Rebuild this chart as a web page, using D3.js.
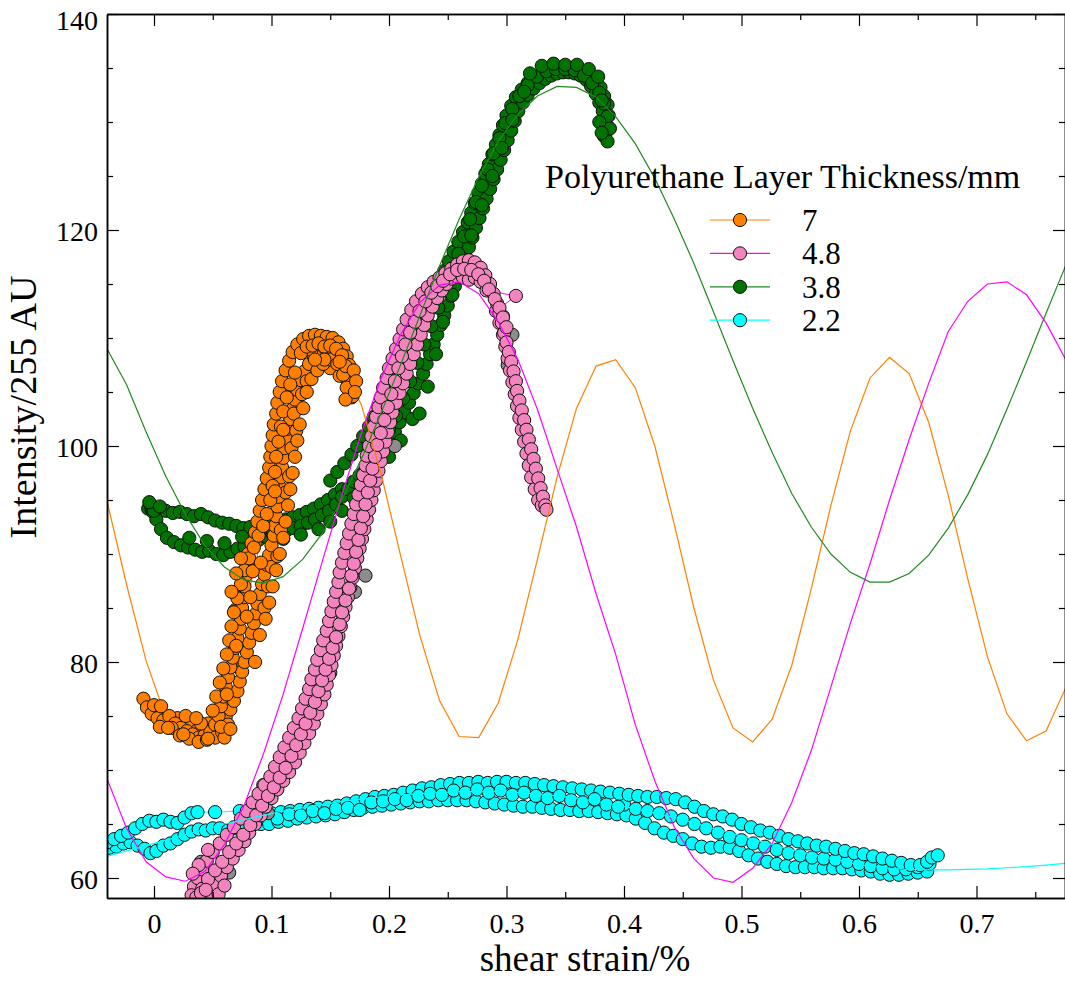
<!DOCTYPE html>
<html>
<head>
<meta charset="utf-8">
<script src="https://d3js.org/d3.v7.min.js"></script>
<style>
  body { margin: 0; background: #fff; }
  text { font-family: "Liberation Serif", "Times New Roman", serif; }
</style>
</head>
<body>
<script>

// strain values where the fitted curves were sampled
var strainGrid = [-0.0400, -0.0234, -0.0067, 0.0100, 0.0266, 0.0433, 0.0599, 0.0766, 0.0932, 0.1099,
  0.1265, 0.1432, 0.1598, 0.1765, 0.1931, 0.2098, 0.2264, 0.2431, 0.2597, 0.2764,
  0.2930, 0.3097, 0.3263, 0.3430, 0.3596, 0.3763, 0.3929, 0.4096, 0.4262, 0.4429,
  0.4595, 0.4762, 0.4928, 0.5095, 0.5261, 0.5428, 0.5594, 0.5761, 0.5927, 0.6094,
  0.6260, 0.6427, 0.6593, 0.6760, 0.6926, 0.7093, 0.7259, 0.7426, 0.7592, 0.7759];

// fitted curves (intensity at each strainGrid value)
var fit7 = [94.9, 87.2, 80.1, 74.9, 72.7, 73.8, 78.0, 84.6, 92.3, 99.6,
  105.2, 108.0, 107.5, 103.8, 97.5, 89.9, 82.4, 76.4, 73.1, 73.0,
  76.2, 82.1, 89.5, 97.1, 103.5, 107.4, 108.0, 105.4, 100.0, 92.7,
  85.0, 78.3, 73.9, 72.6, 74.7, 79.7, 86.8, 94.5, 101.4, 106.3,
  108.2, 106.7, 102.2, 95.4, 87.7, 80.5, 75.2, 72.7, 73.6, 77.6];
var fit48 = [69.2, 64.6, 61.5, 60.1, 59.7, 60.6, 63.1, 66.7, 71.5, 77.0,
  83.1, 89.3, 95.4, 101.2, 106.2, 110.3, 113.3, 114.9, 115.2, 114.1,
  111.5, 108.0, 103.4, 97.9, 92.5, 86.3, 80.7, 74.2, 69.0, 64.7,
  61.8, 60.0, 59.6, 60.9, 63.2, 67.0, 71.8, 77.7, 83.6, 89.1,
  95.0, 100.6, 105.8, 110.6, 113.4, 115.0, 115.2, 114.0, 111.4, 108.0];
var fit38 = [109.0, 105.7, 101.3, 97.2, 93.7, 90.8, 88.8, 87.6, 87.3, 87.9,
  89.5, 91.9, 95.0, 98.8, 103.0, 107.5, 112.1, 116.7, 121.0, 124.9,
  128.2, 130.7, 132.4, 133.3, 133.2, 132.3, 130.5, 128.0, 124.8, 121.0,
  116.9, 112.4, 107.9, 103.5, 99.4, 95.6, 92.5, 90.0, 88.3, 87.4,
  87.4, 88.2, 89.9, 92.4, 95.5, 99.2, 103.4, 107.8, 112.3, 116.7];
var fit22 = [62.0, 62.5, 63.0, 63.5, 64.0, 64.5, 65.0, 65.4, 65.8, 66.2,
  66.5, 66.8, 67.1, 67.3, 67.5, 67.7, 67.8, 67.9, 68.0, 68.0,
  68.0, 67.9, 67.8, 67.6, 67.4, 67.1, 66.8, 66.4, 66.0, 65.6,
  65.1, 64.6, 64.1, 63.6, 63.1, 62.6, 62.2, 61.8, 61.4, 61.1,
  60.9, 60.8, 60.75, 60.75, 60.8, 60.85, 60.95, 61.05, 61.2, 61.35];

// measured points [strain, intensity], 7 mm
var pts7a = [[-0.009,76.6],[-0.006,75.8],[-0.002,75.2],[0.003,74.8],[0.008,74.6],[0.013,75.0],[0.018,74.3],[0.023,73.9],
  [0.028,73.6],[0.033,73.3],[0.038,73.0],[0.043,73.2],[0.048,73.6],[0.052,74.2],[0.055,75.0],[0.057,75.9],[0.059,76.8],
  [0.061,77.7],[0.063,78.6],[0.065,79.5],[0.067,80.4],[0.069,81.3],[0.071,82.2],[0.073,83.1],[0.074,84.0],[0.075,85.0],
  [0.076,86.0],[0.077,87.0],[0.078,88.0],[0.079,89.0],[0.080,90.0],[0.083,91.0],[0.086,92.0],[0.088,93.0],[0.090,94.0],
  [0.092,95.0],[0.094,96.0],[0.096,97.0],[0.098,98.0],[0.099,99.0],[0.100,100.0],[0.101,101.0],[0.102,102.0],[0.104,103.0],
  [0.105,104.0],[0.107,105.0],[0.109,106.0],[0.112,107.0],[0.115,107.9],[0.118,108.7],[0.122,109.4],[0.127,109.9],
  [0.132,110.2],[0.137,110.3],[0.142,110.2],[0.147,110.1],[0.152,110.0],[0.157,109.6],[0.161,109.0],[0.164,108.3],
  [0.166,107.5],[0.168,106.7],[0.169,105.9],[0.168,105.1]];
var pts7b = [[0.020,74.8],[0.026,74.5],[0.031,74.0],[0.036,73.6],[0.041,73.9],[0.046,74.3],[0.051,73.9],[0.056,74.4],
  [0.061,74.9],[0.065,75.6],[0.068,76.4],[0.071,77.3],[0.073,78.2],[0.075,79.1],[0.077,80.0],[0.079,80.9],[0.081,81.8],
  [0.083,82.7],[0.085,83.6],[0.087,84.5],[0.088,85.4],[0.090,86.3],[0.092,87.2],[0.094,88.1],[0.096,89.0],[0.098,89.9],
  [0.100,90.8],[0.102,91.7],[0.103,92.6],[0.104,93.5],[0.105,94.4],[0.106,95.3],[0.107,96.2],[0.108,97.1],[0.109,98.0],
  [0.110,98.9],[0.111,99.8],[0.112,100.7],[0.114,101.6],[0.116,102.5],[0.118,103.4],[0.120,104.3],[0.122,105.2],
  [0.125,106.1],[0.128,106.9],[0.132,107.6],[0.136,108.3],[0.141,108.8],[0.146,109.0],[0.151,108.8],[0.156,108.3],
  [0.160,107.6],[0.163,106.8],[0.165,106.0],[0.167,105.2],[0.169,104.6]];
var pts7c = [[0.066,86.5],[0.070,88.2],[0.074,89.6],[0.086,80.0],[0.090,82.5],[0.094,85.0],[0.150,107.2],[0.158,106.5],
  [0.130,106.0],[0.036,74.8],[0.046,72.9],[0.012,73.9],[0.006,75.9]];
var pts7d = [[0.095,84.0],[0.098,85.5],[0.101,87.0],[0.104,88.5],[0.107,90.0],[0.110,91.5],[0.112,93.0],[0.114,94.5],
  [0.116,96.0],[0.118,97.5],[0.120,99.0],[0.122,100.5],[0.124,102.0],[0.127,103.5],[0.130,105.0],[0.134,106.2],
  [0.139,107.0],[0.144,107.6],[0.150,108.0],[0.156,107.6],[0.161,106.6],[0.164,105.4],[0.163,104.3]];
var pts7e = [[0.015,73.9],[0.022,73.2],[0.030,72.9],[0.038,72.6],[0.045,72.8],[0.052,73.0],[0.058,73.5],[0.063,74.2],
  [0.040,74.3],[0.027,75.0],[0.060,73.0],[0.050,75.5],[0.053,76.8],[0.056,78.1],[0.059,79.4],[0.062,80.7],[0.064,82.0],
  [0.066,83.3],[0.068,84.6],[0.071,85.9],[0.074,87.2],[0.077,88.5],[0.081,89.6],[0.085,90.6],[0.089,91.7],[0.093,92.6],
  [0.096,93.7],[0.099,95.0],[0.101,96.3],[0.103,97.6],[0.104,99.0],[0.106,100.4],[0.108,101.8],[0.110,103.2],
  [0.113,104.5],[0.116,105.7],[0.120,106.8]];
var pts7f = [[0.125,108.6],[0.130,109.2],[0.135,109.3],[0.140,109.5],[0.145,109.2],[0.150,109.3],[0.155,109.0],
  [0.160,108.4],[0.163,107.4],[0.158,107.8],[0.145,108.0],[0.137,108.0],[0.170,107.0],[0.172,106.0],[0.171,105.0]];
var pts7g = [[0.097,87.0],[0.100,88.8],[0.105,89.8],[0.108,92.2],[0.112,95.7],[0.115,97.2],[0.117,99.8],[0.121,101.4],
  [0.119,103.0],[0.126,104.8],[0.082,86.0],[0.079,84.2],[0.084,88.4],[0.070,81.5],[0.062,77.0],[0.057,74.0],
  [0.065,73.8],[0.025,73.3],[0.005,74.0],[0.000,76.0],[0.091,89.2],[0.103,95.8],[0.110,101.5],[0.134,108.9]];
var pts7dark = [[0.069,84.8],[0.070,86.2],[0.095,95.4],[0.168,104.5],[0.115,105.4],[0.072,79.5],[0.010,74.2],[0.090,92.2]];

// 4.8 mm
var pts48a = [[0.034,59.2],[0.037,60.0],[0.041,60.8],[0.045,61.6],[0.050,62.4],[0.056,63.2],[0.062,64.0],[0.068,64.7],
  [0.074,65.5],[0.079,66.2],[0.084,67.0],[0.089,67.8],[0.094,68.6],[0.099,69.4],[0.103,70.3],[0.107,71.2],[0.111,72.1],
  [0.115,73.0],[0.119,73.9],[0.123,74.8],[0.126,75.7],[0.129,76.6],[0.132,77.5],[0.134,78.4],[0.137,79.3],[0.139,80.2],
  [0.142,81.1],[0.144,82.0],[0.147,82.9],[0.149,83.8],[0.151,84.7],[0.153,85.6],[0.155,86.5],[0.157,87.4],[0.158,88.3],
  [0.160,89.2],[0.162,90.1],[0.164,91.0],[0.166,91.9],[0.168,92.8],[0.170,93.7],[0.172,94.6],[0.174,95.5],[0.176,96.4],
  [0.178,97.3],[0.180,98.2],[0.181,99.1],[0.183,100.0],[0.185,100.9],[0.187,101.8],[0.189,102.7],[0.191,103.6],
  [0.193,104.5],[0.195,105.4],[0.198,106.3],[0.200,107.2],[0.203,108.1],[0.206,109.0],[0.209,109.9],[0.212,110.8],
  [0.215,111.7],[0.219,112.6],[0.223,113.4],[0.228,114.1],[0.233,114.7],[0.238,115.2],[0.243,115.6],[0.248,116.0],
  [0.253,116.4],[0.258,116.8],[0.263,117.1],[0.268,117.2],[0.273,117.0],[0.278,116.5],[0.282,115.8],[0.286,115.0],
  [0.289,114.1],[0.292,113.2],[0.294,112.3],[0.296,111.4],[0.298,110.5],[0.300,109.6],[0.302,108.7],[0.304,107.8],
  [0.306,106.9],[0.308,106.0],[0.309,105.1],[0.311,104.2],[0.313,103.3],[0.315,102.4],[0.317,101.5],[0.319,100.6],
  [0.321,99.7],[0.323,98.8],[0.325,97.9],[0.327,97.0],[0.329,96.1],[0.331,95.3],[0.333,94.5],[0.334,94.1]];
var pts48b = [[0.048,58.6],[0.052,59.4],[0.057,60.2],[0.062,61.0],[0.067,61.8],[0.072,62.6],[0.077,63.4],[0.081,64.2],
  [0.086,65.0],[0.091,65.8],[0.095,66.6],[0.100,67.4],[0.105,68.2],[0.110,69.0],[0.115,69.8],[0.120,70.7],[0.124,71.6],
  [0.128,72.5],[0.132,73.4],[0.136,74.3],[0.139,75.2],[0.142,76.1],[0.145,77.0],[0.147,77.9],[0.149,78.8],[0.151,79.7],
  [0.153,80.6],[0.155,81.5],[0.157,82.4],[0.159,83.3],[0.161,84.2],[0.163,85.1],[0.165,86.0],[0.167,86.9],[0.169,87.8],
  [0.171,88.7],[0.173,89.6],[0.175,90.5],[0.177,91.4],[0.179,92.3],[0.181,93.2],[0.183,94.1],[0.185,95.0],[0.187,95.9],
  [0.189,96.8],[0.191,97.7],[0.193,98.6],[0.195,99.5],[0.197,100.4],[0.199,101.3],[0.201,102.2],[0.203,103.1],
  [0.206,104.0],[0.209,104.9],[0.212,105.8],[0.215,106.7],[0.218,107.6],[0.221,108.5],[0.224,109.4],[0.227,110.3],
  [0.230,111.2],[0.233,112.1],[0.237,112.9],[0.241,113.7],[0.245,114.4],[0.249,115.0],[0.253,115.5],[0.258,115.7],
  [0.263,115.6],[0.268,115.4],[0.273,115.6],[0.278,115.2],[0.283,114.4],[0.308,113.9],[0.291,112.5],[0.294,111.4],
  [0.297,110.3],[0.299,109.2],[0.301,108.1],[0.303,107.0],[0.305,105.9],[0.307,104.8],[0.309,103.7],[0.311,102.6],
  [0.313,101.5],[0.315,100.4],[0.317,99.3],[0.319,98.2],[0.321,97.1],[0.324,96.0],[0.327,95.0],[0.330,94.5]];
var pts48c = [[0.041,59.0],[0.046,59.9],[0.052,60.7],[0.058,61.5],[0.064,62.4],[0.070,63.2],[0.076,64.0],[0.082,64.9],
  [0.087,65.8],[0.092,66.7],[0.097,67.6],[0.102,68.4],[0.107,69.3],[0.112,70.2],[0.117,71.3],[0.121,72.3],[0.125,73.3],
  [0.129,74.3],[0.133,75.3],[0.137,76.3],[0.140,77.3],[0.143,78.3],[0.146,79.3],[0.149,80.3],[0.152,81.3],[0.155,82.3],
  [0.158,83.5],[0.160,84.6],[0.163,85.7],[0.166,86.8],[0.168,88.0],[0.170,89.1],[0.172,90.2],[0.174,91.3],[0.176,92.4],
  [0.178,93.5],[0.180,94.6],[0.182,95.7],[0.184,96.8],[0.186,97.9],[0.188,99.0],[0.190,100.1],[0.193,101.2],[0.196,102.4],
  [0.199,103.6],[0.202,104.8],[0.205,106.0],[0.208,107.2],[0.211,108.3],[0.214,109.4],[0.218,110.5],[0.222,111.5],
  [0.226,112.5],[0.231,113.4],[0.236,114.2],[0.241,114.8],[0.246,115.3],[0.252,115.9],[0.258,116.3],[0.264,116.4],
  [0.270,116.3],[0.276,115.9],[0.281,115.3],[0.285,114.5],[0.290,113.6],[0.294,112.8],[0.297,111.9],[0.300,111.0]];
var pts48d = [[0.032,58.4],[0.036,58.2],[0.040,58.6],[0.044,58.9],[0.038,61.2],[0.046,62.6],[0.033,60.4],[0.055,58.5],
  [0.060,59.3]];
var pts48gray = [[0.093,68.6],[0.305,110.3],[0.040,61.5],[0.097,66.0],[0.150,79.0],[0.171,86.5],[0.180,88.0],
  [0.297,112.0],[0.301,107.5],[0.130,75.0],[0.205,100.0],[0.185,97.0],[0.064,60.5],[0.112,70.2]];

// 3.8 mm
var pts38a = [[-0.003,94.6],[-0.001,93.9],[0.002,93.2],[0.006,92.3],[0.011,91.5],[0.017,91.1],[0.023,90.8],[0.029,90.6],
  [0.035,90.4],[0.041,90.2],[0.047,90.3],[0.053,90.0],[0.059,89.9],[0.065,90.2],[0.071,90.5],[0.077,90.7],[0.083,91.0],
  [0.089,91.3],[0.095,91.6],[0.101,91.8],[0.107,92.0],[0.113,92.2],[0.119,92.4],[0.125,92.6],[0.131,92.9],[0.137,93.2],
  [0.143,93.6],[0.149,94.0],[0.155,94.6],[0.160,95.3],[0.165,96.0],[0.170,96.7],[0.175,97.3],[0.180,97.9],[0.185,98.5],
  [0.190,99.1],[0.195,99.8],[0.200,100.5],[0.205,101.3],[0.209,102.2],[0.213,103.1],[0.217,104.0],[0.221,104.9],
  [0.225,105.8],[0.229,106.7],[0.232,107.6],[0.235,108.5],[0.238,109.4],[0.241,110.3],[0.244,111.2],[0.247,112.1],
  [0.250,113.0],[0.253,113.9],[0.256,114.8],[0.259,115.7],[0.262,116.6],[0.265,117.5],[0.268,118.4],[0.271,119.3],
  [0.274,120.2],[0.277,121.1],[0.280,122.0],[0.283,122.9],[0.286,123.8],[0.289,124.7],[0.292,125.6],[0.295,126.5],
  [0.298,127.4],[0.301,128.3],[0.304,129.2],[0.307,130.1],[0.310,131.0],[0.314,131.8],[0.318,132.5],[0.323,133.1],
  [0.328,133.6],[0.333,134.0],[0.338,134.3],[0.343,134.5],[0.348,134.6],[0.353,134.6],[0.358,134.5],[0.363,134.3],
  [0.368,133.9],[0.372,133.3],[0.376,132.6],[0.379,131.8],[0.382,131.0],[0.384,130.2],[0.385,129.4],[0.383,128.7]];
var pts38b = [[0.150,96.8],[0.156,97.6],[0.162,98.4],[0.168,99.2],[0.173,100.0],[0.178,100.9],[0.183,101.8],[0.187,102.7],
  [0.191,103.6],[0.195,104.5],[0.199,105.4],[0.203,106.3],[0.207,107.2],[0.211,108.1],[0.215,109.0],[0.219,109.9],
  [0.223,110.8],[0.227,111.7],[0.231,112.6],[0.235,113.5],[0.239,114.4],[0.243,115.3],[0.247,116.2],[0.251,117.1],
  [0.255,118.0],[0.259,118.9],[0.263,119.8],[0.267,120.7],[0.270,121.6],[0.273,122.5],[0.276,123.4],[0.279,124.3],
  [0.282,125.2],[0.285,126.1],[0.288,127.0],[0.291,127.9],[0.294,128.8],[0.297,129.7],[0.300,130.6],[0.304,131.5],
  [0.308,132.3],[0.313,133.0],[0.318,133.6],[0.324,134.1],[0.330,134.5],[0.336,134.8],[0.342,135.0],[0.348,135.0],
  [0.354,134.9],[0.360,134.8],[0.366,134.6],[0.371,134.3],[0.376,133.9],[0.380,133.2],[0.383,132.4],[0.386,131.6],
  [0.387,130.6],[0.386,129.6],[0.384,128.8]];
var pts38c = [[-0.005,94.2],[-0.002,94.1],[0.004,93.9],[0.010,94.0],[0.016,93.8],[0.022,93.9],[0.028,93.7],[0.034,93.5],
  [0.040,93.7],[0.046,93.4],[0.052,93.1],[0.058,92.9],[0.064,92.8],[0.070,92.6],[0.076,92.4],[0.082,92.5],[0.088,92.2],
  [0.094,92.6],[0.100,92.9],[0.106,93.1],[0.112,93.2],[0.118,93.4],[0.124,93.6],[0.130,93.9],[0.136,94.2],[0.142,94.6],
  [0.148,95.0],[0.154,95.5],[0.160,96.0]];
var pts38d = [[0.200,101.5],[0.206,102.8],[0.212,104.4],[0.218,106.0],[0.224,107.7],[0.230,109.4],[0.236,111.1],
  [0.242,112.8],[0.248,114.5],[0.254,116.2],[0.259,117.8],[0.264,119.4],[0.269,121.0],[0.274,122.6],[0.279,124.1],
  [0.284,125.6],[0.289,127.1],[0.294,128.5],[0.299,129.9],[0.305,131.2],[0.311,132.4],[0.318,133.4],[0.326,134.2],
  [0.334,134.7],[0.342,134.9],[0.350,134.9],[0.358,134.8],[0.366,134.3],[0.373,133.6],[0.379,132.7],[0.383,131.7],
  [0.386,130.5],[0.388,129.4],[0.386,128.2]];
var pts38e = [[0.000,94.0],[-0.004,94.8],[0.005,94.4],[0.030,91.5],[0.045,91.2],[0.060,91.0],[0.075,91.6],[0.090,92.0],
  [0.110,91.4],[0.125,91.8],[0.140,92.3],[0.150,93.0],[0.160,94.0],[0.170,95.2],[0.180,96.5],[0.190,97.6],[0.200,99.0],
  [0.210,100.5],[0.220,102.5]];
var pts38f = [[0.320,134.5],[0.330,135.2],[0.340,135.4],[0.350,135.3],[0.360,135.3],[0.370,134.9],[0.378,134.2],
  [0.381,132.0],[0.379,130.0],[0.381,129.0],[0.315,132.8],[0.305,130.2],[0.296,127.6],[0.288,125.0],[0.279,122.3],
  [0.270,119.5],[0.262,117.0],[0.254,114.0],[0.246,111.5],[0.240,108.5],[0.233,105.5],[0.226,103.0]];

// 2.2 mm
var pts22a = [[-0.040,63.3],[-0.034,63.6],[-0.028,63.9],[-0.022,64.2],[-0.016,64.6],[-0.010,65.0],[-0.004,65.3],
  [0.002,65.2],[0.008,65.4],[0.014,65.2],[0.020,65.1],[0.026,65.6],[0.032,66.0],[0.037,66.1],[0.052,66.1],[0.073,66.2],
  [0.084,66.3],[0.092,66.0],[0.100,66.0],[0.108,66.1],[0.116,66.2],[0.124,66.3],[0.132,66.4],[0.140,66.5],[0.148,66.6],
  [0.156,66.7],[0.164,66.9],[0.172,67.1],[0.180,67.3],[0.188,67.5],[0.196,67.6],[0.204,67.7],[0.212,67.9],[0.220,68.1],
  [0.228,68.3],[0.236,68.4],[0.244,68.6],[0.252,68.7],[0.260,68.8],[0.268,68.8],[0.276,68.9],[0.284,68.8],[0.292,68.9],
  [0.300,68.9],[0.308,68.8],[0.316,68.8],[0.324,68.7],[0.332,68.6],[0.340,68.5],[0.348,68.4],[0.356,68.3],[0.364,68.2],
  [0.372,68.1],[0.380,68.0],[0.388,67.9],[0.396,67.8],[0.404,67.7],[0.412,67.6],[0.420,67.5],[0.428,67.5],[0.436,67.4],
  [0.444,67.3],[0.452,67.0],[0.460,66.6],[0.468,66.2],[0.476,65.9],[0.484,65.7],[0.492,65.4],[0.500,65.0],[0.508,64.7],
  [0.516,64.4],[0.524,64.2],[0.532,63.9],[0.540,63.6],[0.548,63.4],[0.556,63.2],[0.564,63.0],[0.572,62.9],[0.580,62.7],
  [0.588,62.5],[0.596,62.3],[0.604,62.2],[0.612,62.0],[0.620,61.8],[0.628,61.6],[0.636,61.4],[0.644,61.2],[0.652,61.2],
  [0.658,61.5],[0.662,61.9],[0.667,62.1]];
var pts22b = [[-0.038,62.8],[-0.032,62.9],[-0.026,63.2],[-0.020,63.3],[-0.014,63.0],[-0.008,62.7],[-0.003,62.3],
  [0.002,62.5],[0.008,63.0],[0.014,63.2],[0.020,63.6],[0.026,64.0],[0.032,64.3],[0.038,64.5],[0.044,64.4],[0.050,64.6],
  [0.056,64.6],[0.063,64.4],[0.070,64.6],[0.077,64.8],[0.084,65.0],[0.091,65.0],[0.098,65.0],[0.106,65.2],[0.114,65.3],
  [0.122,65.5],[0.130,65.6],[0.138,65.7],[0.146,65.8],[0.154,65.9],[0.162,66.1],[0.170,66.3],[0.178,66.5],[0.186,66.6],
  [0.194,66.7],[0.202,66.8],[0.210,66.9],[0.218,67.0],[0.226,67.1],[0.234,67.1],[0.242,67.2],[0.250,67.2],[0.258,67.2],
  [0.266,67.2],[0.274,67.1],[0.282,67.0],[0.290,66.9],[0.298,66.8],[0.306,66.7],[0.314,66.6],[0.322,66.6],[0.330,66.5],
  [0.338,66.4],[0.346,66.3],[0.354,66.3],[0.362,66.2],[0.370,66.2],[0.378,66.1],[0.386,66.0],[0.394,65.9],[0.402,65.8],
  [0.410,65.5],[0.418,65.1],[0.426,64.6],[0.434,64.2],[0.442,63.9],[0.450,63.6],[0.458,63.2],[0.466,62.9],[0.474,62.8],
  [0.482,62.9],[0.490,62.8],[0.498,62.5],[0.506,62.1],[0.514,61.8],[0.522,61.5],[0.530,61.3],[0.538,61.1],[0.546,61.0],
  [0.554,61.0],[0.562,61.0],[0.570,60.9],[0.578,60.9],[0.586,60.9],[0.594,60.8],[0.602,60.7],[0.610,60.6],[0.618,60.4],
  [0.626,60.3],[0.634,60.3],[0.642,60.4],[0.650,60.5],[0.658,60.6]];
var pts22c = [[0.400,66.8],[0.410,66.4],[0.420,66.2],[0.430,66.0],[0.440,65.7],[0.450,65.4],[0.460,65.0],[0.470,64.6],
  [0.480,64.2],[0.490,63.8],[0.500,63.5],[0.510,63.2],[0.520,62.9],[0.530,62.6],[0.540,62.3],[0.550,62.1],[0.560,61.9],
  [0.570,61.8],[0.580,61.7],[0.590,61.5],[0.600,61.3],[0.610,61.1],[0.620,60.9],[0.630,60.8],[0.640,60.8],[0.650,61.0],
  [0.660,61.3]];
var pts22d = [[0.105,65.5],[0.115,65.9],[0.125,65.8],[0.135,66.2],[0.145,66.0],[0.155,66.4],[0.165,66.5],[0.175,66.3],
  [0.185,67.0],[0.195,67.1],[0.205,67.3],[0.215,67.2],[0.225,67.6],[0.235,67.8],[0.245,67.7],[0.255,68.1],[0.265,67.9],
  [0.275,68.2],[0.285,67.9],[0.295,68.1],[0.305,67.7],[0.315,67.9],[0.325,67.6],[0.335,67.4],[0.345,67.6],[0.355,67.2],
  [0.365,67.0],[0.375,67.3],[0.385,66.8],[0.395,66.6]];

// axis ticks and labels
var xMajor = [0, 0.1, 0.2, 0.3, 0.4, 0.5, 0.6, 0.7];
var xMinor = [0.05, 0.15, 0.25, 0.35, 0.45, 0.55, 0.65, 0.75];
var yMajor = [60, 80, 100, 120, 140];
var yMinor = [65, 70, 75, 85, 90, 95, 105, 110, 115, 125, 130, 135];
var legendTitle = "Polyurethane Layer Thickness/mm";
var legendLabels = ["7", "4.8", "3.8", "2.2"];

// colours
var orange = "#ff8000", pink = "#f384bd", magenta = "#ff00ff",
    dkgreen = "#007300", green = "#208a20", cyan = "#00ffff";

var w = 1065, h = 981;
var x = d3.scaleLinear().domain([-0.04, 0.77532]).range([107, 1065]);
var y = d3.scaleLinear().domain([58.148, 140]).range([898, 14]);

var svg = d3.select("body").append("svg")
  .attr("width", w)
  .attr("height", h);

svg.append("defs").append("clipPath").attr("id", "clip")
  .append("rect").attr("x", 107).attr("y", 14).attr("width", 958).attr("height", 884);

var plot = svg.append("g").attr("clip-path", "url(#clip)");

var line = d3.line().x(function(d) { return x(d[0]); }).y(function(d) { return y(d[1]); });

function fitLine(vals, color) {
  var pts = strainGrid.map(function(s, i) { return [s, vals[i]]; });
  plot.append("path").datum(pts)
    .attr("d", line)
    .attr("fill", "none")
    .attr("stroke", color)
    .attr("stroke-width", 1.2);
}

// connecting lines of the ordered strands first, then every marker
function scatter(strands, extras, fill, lineColor) {
  if (lineColor) {
    strands.forEach(function(s) {
      plot.append("path").datum(s)
        .attr("d", line)
        .attr("fill", "none")
        .attr("stroke", lineColor)
        .attr("stroke-width", 1);
    });
  }
  strands.concat(extras).forEach(function(s) {
    plot.append("g").selectAll("circle")
      .data(s)
      .enter()
      .append("circle")
      .attr("cx", function(d) { return x(d[0]); })
      .attr("cy", function(d) { return y(d[1]); })
      .attr("r", 6.6)
      .attr("fill", fill)
      .attr("stroke", "#111")
      .attr("stroke-width", 1);
  });
}

scatter([pts22b, pts22c, pts22a], [pts22d], cyan, cyan);
scatter([pts38c, pts38b, pts38a], [pts38e, pts38d, pts38f], dkgreen, green);
scatter([], [pts48gray], "#8c8c8c", null);
scatter([pts48b, pts48a], [pts48c, pts48d], pink, magenta);
fitLine(fit7, orange);
scatter([], [pts7dark], "#a65628", null);
scatter([pts7b, pts7a], [pts7e, pts7g, pts7c, pts7d, pts7f], orange, orange);
fitLine(fit48, magenta);
fitLine(fit38, green);
fitLine(fit22, cyan);

// axes
function styleAxis(g) {
  g.selectAll("path.domain").attr("stroke", "#000").attr("stroke-width", 1.5);
  g.selectAll(".tick line").attr("stroke", "#000").attr("stroke-width", 1.2);
  g.selectAll(".tick text").attr("font-size", "28px").attr("fill", "#000")
    .attr("font-family", "Liberation Serif, Times New Roman, serif");
}
var fmtX = function(d) { return d === 0 ? "0" : d3.format(".1f")(d); };

svg.append("g").attr("transform", "translate(0,898)")
  .call(d3.axisBottom(x).tickValues(xMajor).tickSize(-12).tickSizeOuter(0).tickPadding(15).tickFormat(fmtX))
  .call(styleAxis);
svg.append("g").attr("transform", "translate(0,898)")
  .call(d3.axisBottom(x).tickValues(xMinor).tickSize(-6).tickSizeOuter(0).tickFormat(""))
  .call(styleAxis);
svg.append("g").attr("transform", "translate(0,14)")
  .call(d3.axisTop(x).tickValues(xMajor).tickSize(-12).tickSizeOuter(0).tickFormat(""))
  .call(styleAxis);
svg.append("g").attr("transform", "translate(0,14)")
  .call(d3.axisTop(x).tickValues(xMinor).tickSize(-6).tickSizeOuter(0).tickFormat(""))
  .call(styleAxis);
var gy = svg.append("g").attr("transform", "translate(107,0)")
  .call(d3.axisLeft(y).tickValues(yMajor).tickSize(-12).tickSizeOuter(0).tickPadding(9))
  .call(styleAxis);
gy.selectAll(".tick text").attr("dy", function(d) { return d === 140 ? "0.55em" : "0.38em"; });
svg.append("g").attr("transform", "translate(107,0)")
  .call(d3.axisLeft(y).tickValues(yMinor).tickSize(-6).tickSizeOuter(0).tickFormat(""))
  .call(styleAxis);
svg.append("g").attr("transform", "translate(1065,0)")
  .call(d3.axisRight(y).tickValues(yMajor).tickSize(-12).tickSizeOuter(0).tickFormat(""))
  .call(styleAxis);
svg.append("g").attr("transform", "translate(1065,0)")
  .call(d3.axisRight(y).tickValues(yMinor).tickSize(-6).tickSizeOuter(0).tickFormat(""))
  .call(styleAxis);

// axis titles
svg.append("text")
  .attr("x", 585)
  .attr("y", 971)
  .attr("text-anchor", "middle")
  .attr("font-size", "37px")
  .text("shear strain/%");
svg.append("text")
  .attr("transform", "translate(36,407) rotate(-90)")
  .attr("text-anchor", "middle")
  .attr("font-size", "38px")
  .text("Intensity/255 AU");

// legend
var legend = svg.append("g");
legend.append("text")
  .attr("x", 545)
  .attr("y", 188)
  .attr("font-size", "34px")
  .text(legendTitle);
var legendFill = [orange, pink, dkgreen, cyan];
var legendLine = [orange, magenta, green, cyan];
legendLabels.forEach(function(lab, i) {
  var ly = 220 + i * 33.4;
  legend.append("line")
    .attr("x1", 710).attr("x2", 770).attr("y1", ly).attr("y2", ly)
    .attr("stroke", legendLine[i]).attr("stroke-width", 1.2);
  legend.append("circle")
    .attr("cx", 740).attr("cy", ly).attr("r", 6.6)
    .attr("fill", legendFill[i]).attr("stroke", "#111").attr("stroke-width", 1);
  legend.append("text")
    .attr("x", 802).attr("y", ly + 11)
    .attr("font-size", "31px")
    .text(lab);
});

</script>
</body>
</html>
